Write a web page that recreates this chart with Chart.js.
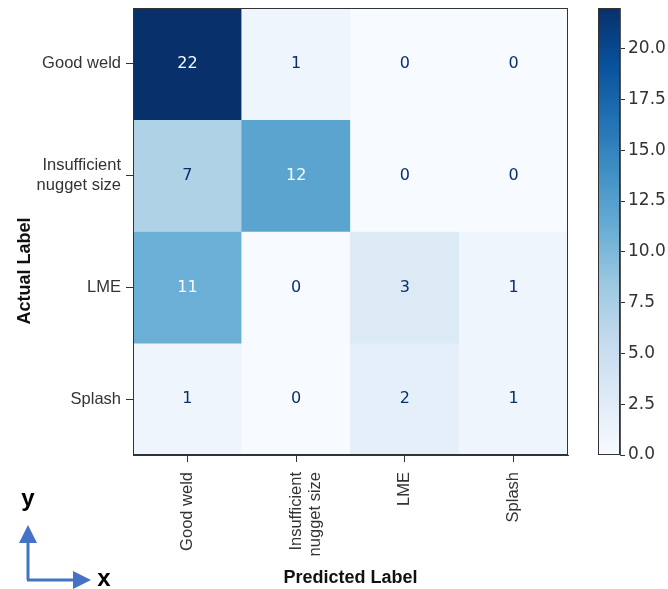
<!DOCTYPE html>
<html>
<head>
<meta charset="utf-8">
<script src="https://cdn.jsdelivr.net/npm/chart.js@4"></script>
<style>
  body { margin: 0; background: #fff; }
  #wrap { position: relative; width: 668px; height: 589px; }
  #main { position: absolute; left: 0; top: 0; width: 580px; height: 589px; }
  #cbar { position: absolute; left: 580px; top: 0; width: 88px; height: 589px; }
  #axes-icon { position: absolute; left: 0; top: 470px; }
</style>
</head>
<body>
<div id="wrap">
  <div id="main"><canvas id="matrix"></canvas></div>
  <div id="cbar"><canvas id="colorbar"></canvas></div>
  <svg id="axes-icon" width="130" height="119">
    <defs>
      <marker id="tip" markerWidth="6" markerHeight="6" refX="3" refY="3" orient="auto">
        <path d="M0,0 L6,3 L0,6 z" fill="#4472c4"></path>
      </marker>
    </defs>
    <path d="M28,110 L28,64" stroke="#4472c4" stroke-width="3" fill="none" marker-end="url(#tip)"></path>
    <path d="M27,110 L82,110" stroke="#4472c4" stroke-width="3" fill="none" marker-end="url(#tip)"></path>
    <text x="28" y="36" font-family="Liberation Sans" font-weight="bold" font-size="24" text-anchor="middle">y</text>
    <text x="104" y="116" font-family="Liberation Sans" font-weight="bold" font-size="24" text-anchor="middle">x</text>
  </svg>
</div>
<script>
const actualLabels = ["Good weld", ["Insufficient", "nugget size"], "LME", "Splash"];
const predictedLabels = ["Good weld", ["Insufficient", "nugget size"], "LME", "Splash"];
// rows = actual, columns = predicted
const counts = [
  [22, 1, 0, 0],
  [7, 12, 0, 0],
  [11, 0, 3, 1],
  [1, 0, 2, 1],
];
const colorbarTicks = [0, 2.5, 5, 7.5, 10, 12.5, 15, 17.5, 20];
const vmin = 0;
const vmax = 22;

// matplotlib "Blues"
const blues = ["#f7fbff", "#deebf7", "#c6dbef", "#9ecae1", "#6baed6", "#4292c6", "#2171b5", "#08519c", "#08306b"];

function hexToRgb(h) {
  return [parseInt(h.slice(1, 3), 16), parseInt(h.slice(3, 5), 16), parseInt(h.slice(5, 7), 16)];
}

function bluesColor(v) {
  let t = (v - vmin) / (vmax - vmin);
  t = Math.max(0, Math.min(1, t));
  const pos = t * (blues.length - 1);
  const i = Math.min(Math.floor(pos), blues.length - 2);
  const f = pos - i;
  const a = hexToRgb(blues[i]);
  const b = hexToRgb(blues[i + 1]);
  const c = a.map((x, k) => Math.round(x + (b[k] - x) * f));
  return `rgb(${c[0]}, ${c[1]}, ${c[2]})`;
}

const tickFont = { family: "Liberation Sans, Arial, sans-serif", size: 16.5 };
const thresh = (vmax + vmin) / 2;

const cellText = {
  id: "cellText",
  afterDatasetsDraw(chart) {
    const { ctx, scales } = chart;
    ctx.save();
    ctx.font = "16px 'DejaVu Sans'";
    ctx.textAlign = "center";
    ctx.textBaseline = "middle";
    counts.forEach((row, i) => {
      row.forEach((v, j) => {
        ctx.fillStyle = v < thresh ? "#08306b" : "#f7fbff";
        ctx.fillText(String(v), scales.x.getPixelForValue(j), scales.y.getPixelForValue(i + 0.5));
      });
    });
    ctx.restore();
  },
};

const frame = {
  id: "frame",
  afterDraw(chart) {
    const { ctx, chartArea } = chart;
    ctx.save();
    ctx.strokeStyle = "#333";
    ctx.lineWidth = 1;
    ctx.strokeRect(chartArea.left + 0.5, chartArea.top + 0.5, chartArea.width - 1, chartArea.height - 1);
    ctx.restore();
  },
};

const yTitle = {
  id: "yTitle",
  afterDraw(chart) {
    const { ctx } = chart;
    ctx.save();
    ctx.translate(25, 271);
    ctx.rotate(-Math.PI / 2);
    ctx.font = "bold 18px 'Liberation Sans'";
    ctx.fillStyle = "#111";
    ctx.textAlign = "center";
    ctx.textBaseline = "middle";
    ctx.fillText("Actual Label", 0, 0);
    ctx.restore();
  },
};

function noPad(axis) {
  axis.paddingTop = 0;
  axis.paddingBottom = 0;
  axis.paddingLeft = 0;
  axis.paddingRight = 0;
}

new Chart(document.getElementById("matrix"), {
  type: "bar",
  data: {
    labels: predictedLabels,
    datasets: counts.map((row, i) => ({
      label: "row " + i,
      data: row.map(() => [i, i + 1]),
      backgroundColor: row.map((v) => bluesColor(v)),
      borderWidth: 0,
      barPercentage: 1,
      categoryPercentage: 1,
      grouped: false,
    })),
  },
  options: {
    responsive: true,
    maintainAspectRatio: false,
    animation: false,
    layout: { padding: { top: 8, right: 12, left: 0, bottom: 0 } },
    plugins: { legend: { display: false }, tooltip: { enabled: false } },
    scales: {
      x: {
        grid: { drawOnChartArea: false, offset: false, tickLength: 7, color: "#333", tickColor: "#333" },
        border: { color: "#333" },
        ticks: { font: tickFont, color: "#333", maxRotation: 90, minRotation: 90, padding: 10 },
        title: { display: true, text: "Predicted Label", font: { family: "Liberation Sans", size: 18, weight: "bold" }, color: "#111", padding: { top: 0, bottom: 0 } },
        afterFit(axis) { axis.height = 134; noPad(axis); },
      },
      y: {
        min: 0,
        max: 4,
        reverse: true,
        grid: { drawOnChartArea: false, tickLength: 7, color: "#333", tickColor: "#333" },
        border: { color: "#333" },
        afterBuildTicks(axis) {
          axis.ticks = actualLabels.map((_, i) => ({ value: i + 0.5 }));
        },
        ticks: {
          font: tickFont,
          color: "#333",
          padding: 5,
          callback: (v, idx) => actualLabels[idx],
        },
        afterFit(axis) { axis.width = 133; noPad(axis); },
      },
    },
  },
  plugins: [cellText, frame, yTitle],
});

new Chart(document.getElementById("colorbar"), {
  type: "bar",
  data: {
    labels: [""],
    datasets: [{
      data: [[vmin, vmax]],
      borderWidth: 0,
      barPercentage: 1,
      categoryPercentage: 1,
      backgroundColor(c) {
        const area = c.chart.chartArea;
        if (!area) return blues[4];
        const g = c.chart.ctx.createLinearGradient(0, area.bottom, 0, area.top);
        blues.forEach((col, k) => g.addColorStop(k / (blues.length - 1), col));
        return g;
      },
    }],
  },
  options: {
    responsive: true,
    maintainAspectRatio: false,
    animation: false,
    layout: { padding: { top: 8, left: 18, right: 0, bottom: 134 } },
    plugins: { legend: { display: false }, tooltip: { enabled: false } },
    scales: {
      x: { display: false },
      y: {
        position: "right",
        min: vmin,
        max: vmax,
        grid: { drawOnChartArea: false, tickLength: 5, color: "#333", tickColor: "#333" },
        border: { color: "#555" },
        afterBuildTicks(axis) {
          axis.ticks = colorbarTicks.map((v) => ({ value: v }));
        },
        ticks: { font: { family: "DejaVu Sans", size: 17 }, color: "#333", padding: 3, callback: (v) => Number(v).toFixed(1) },
        afterFit(axis) { axis.width = 48; noPad(axis); },
      },
    },
  },
  plugins: [frame],
});
</script>
</body>
</html>
